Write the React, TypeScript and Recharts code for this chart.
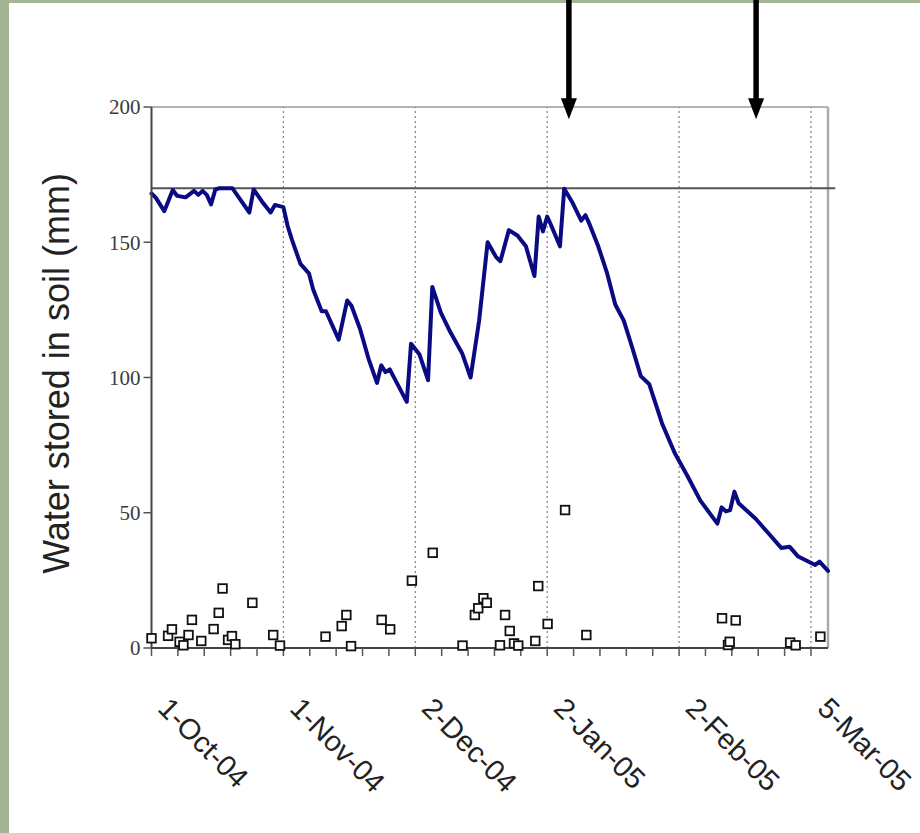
import React from 'react';
import { ComposedChart, Line, Scatter, XAxis, YAxis, ReferenceLine } from 'recharts';

// Days since 1-Oct-04
const lineDays = [0, 1, 3, 5, 6, 8, 10, 11, 12, 13, 14, 15, 16, 19, 21, 23, 24, 26, 28, 29, 31, 32, 33, 35, 37, 38, 40, 41, 44, 46, 47, 49, 51, 53, 54, 55, 56, 58, 60, 61, 63, 65, 66, 68, 70, 73, 75, 77, 79, 81, 82, 84, 86, 88, 90, 91, 92, 93, 94, 96, 97, 99, 101, 102, 103, 105, 107, 109, 111, 113, 115, 117, 120, 123, 126, 129, 133, 134, 135, 136, 137, 138, 142, 145, 148, 150, 152, 156, 157, 159];
const lineValues = [168, 166.5, 161.5, 169.3, 167.2, 166.6, 169, 167.5, 169, 167.5, 164, 169.5, 170, 170, 165.5, 161, 169.5, 165, 161, 163.8, 163, 156, 151, 142, 138.5, 132.5, 124.5, 124.5, 114, 128.5, 126.5, 118, 107, 98, 104.5, 102, 103, 97, 91, 112.5, 108.5, 99, 133.5, 124, 117.5, 109, 100, 121, 150, 144.5, 143, 154.5, 152.5, 148.5, 137.5, 159.5, 154, 159.5, 156, 148.5, 169.8, 164.5, 158, 160, 156.5, 148.5, 139, 127, 121, 111, 100.5, 97.5, 83, 72, 63.5, 54.5, 46, 52, 50.5, 51, 57.8, 53.5, 47.8, 42.4, 37, 37.4, 33.8, 30.7, 31.9, 28.5];

const rainDays = [0, 3.9, 4.8, 6.6, 7.5, 8.7, 9.5, 11.7, 14.6, 15.8, 16.7, 18, 18.9, 19.7, 23.7, 28.6, 30.2, 40.9, 44.7, 45.8, 46.9, 54.1, 56.1, 61.2, 66.1, 73.1, 76, 76.8, 78, 78.8, 81.9, 83.1, 84.2, 85.2, 86.2, 90.2, 90.9, 93.1, 97.2, 102.2, 134.1, 135.5, 135.9, 137.3, 150.1, 151.4, 157.2];
const rainValues = [3.6, 4.5, 6.9, 2.3, 1, 4.8, 10.4, 2.6, 7, 13, 22, 3, 4.4, 1.4, 16.7, 4.8, 0.9, 4.2, 8.1, 12.2, 0.7, 10.4, 6.9, 24.9, 35.2, 0.9, 12.2, 14.7, 18.4, 16.7, 1, 12.2, 6.3, 1.7, 0.9, 2.6, 22.9, 8.9, 51, 4.8, 11, 1.1, 2.3, 10.2, 2, 1, 4.2];

const xTickDays = [0, 6.2, 12.4, 18.6, 24.8, 31, 37.2, 43.4, 49.6, 55.8, 62, 68.2, 74.4, 80.6, 86.8, 93, 99.2, 105.4, 111.6, 117.8, 124, 130.2, 136.4, 142.6, 148.8, 155];
const labelDays = [0, 31, 62, 93, 124, 155];
const dateLabels = ['1-Oct-04', '1-Nov-04', '2-Dec-04', '2-Jan-05', '2-Feb-05', '5-Mar-05'];
const gridDays = [31, 62, 93, 124, 155];
const yTicks = [0, 50, 100, 150, 200];
const fieldCapacity = 170;
const arrowDays = [98.1, 142.1];

const lineData = lineDays.map((d, i) => ({ day: d, stored: lineValues[i] }));
const rainData = rainDays.map((d, i) => ({ day: d, rain: rainValues[i] }));

const XTick = (props: any) => {
  const { x, y, payload } = props;
  const idx = labelDays.findIndex((d) => Math.abs(d - payload.value) < 0.01);
  if (idx < 0) return null;
  const tx = x + 5;
  const ty = y + 52;
  return (
    <text
      x={tx}
      y={ty}
      transform={`rotate(45, ${tx}, ${ty})`}
      textAnchor="start"
      fontFamily="'Liberation Sans', Arial, sans-serif"
      fontSize={29}
      fill="#222"
    >
      {dateLabels[idx]}
    </text>
  );
};

const SquareShape = (props: any) => {
  const { cx, cy } = props;
  if (cx == null || cy == null) return null;
  return <rect x={cx - 4.3} y={cy - 4.3} width={8.6} height={8.6} fill="#fff" stroke="#111" strokeWidth={1.8} />;
};

const ArrowShape = (props: any) => {
  const { x1, y1, x2, y2 } = props;
  const top = Math.min(y1, y2);
  const tip = Math.max(y1, y2);
  return (
    <g>
      <line x1={x1} y1={top} x2={x2} y2={tip - 18} stroke="#000" strokeWidth={5.5} />
      <polygon points={`${x2 - 8},${tip - 21} ${x2 + 8},${tip - 21} ${x2},${tip}`} fill="#000" />
    </g>
  );
};

const HLineShape = (props: any) => {
  const { x1, y1, x2, y2 } = props;
  return <line x1={x1} y1={y1} x2={x2} y2={y2} stroke="#555" strokeWidth={2} />;
};

const YTitle = (props: any) => {
  const { viewBox } = props;
  const cx = viewBox.x + 47;
  const cy = viewBox.y + viewBox.height / 2 - 4;
  return (
    <text
      x={cx}
      y={cy}
      transform={`rotate(-90, ${cx}, ${cy})`}
      textAnchor="middle"
      fontFamily="'Liberation Sans', Arial, sans-serif"
      fontSize={36}
      fill="#222"
    >
      Water stored in soil (mm)
    </text>
  );
};

export default function App() {
  return (
    <div style={{ position: 'absolute', left: 0, top: 0, width: 920, height: 833, background: '#a3b592', overflow: 'hidden' }}>
      <div style={{ position: 'absolute', left: 9, top: 3, right: 0, bottom: 0, background: '#fff' }} />
      <div style={{ position: 'absolute', left: 0, top: 0 }}>
        <ComposedChart width={920} height={833} margin={{ top: 107, right: 92, bottom: 65, left: 21.5 }}>
          <XAxis
            type="number"
            dataKey="day"
            domain={[0, 159]}
            ticks={xTickDays}
            interval={0}
            tick={<XTick />}
            tickSize={8}
            tickLine={{ stroke: '#555', strokeWidth: 1.5 }}
            axisLine={{ stroke: '#444', strokeWidth: 2 }}
            height={120}
            allowDecimals
          />
          <YAxis
            type="number"
            domain={[0, 200]}
            ticks={yTicks}
            width={130}
            tickSize={8}
            tickMargin={3}
            tickLine={{ stroke: '#555', strokeWidth: 1.5 }}
            axisLine={{ stroke: '#444', strokeWidth: 2 }}
            tick={{ fill: '#3a3a3a', fontSize: 21, fontFamily: "'Liberation Serif', 'Times New Roman', serif" }}
            label={<YTitle />}
          />
          <ReferenceLine y={200} stroke="#9a9a9a" strokeWidth={1.5} />
          <ReferenceLine x={159} stroke="#aaa" strokeWidth={2.5} />
          {gridDays.map((d) => (
            <ReferenceLine key={d} x={d} stroke="#888" strokeWidth={1.3} strokeDasharray="2 3" />
          ))}
          <ReferenceLine
            segment={[{ x: 0, y: fieldCapacity }, { x: 160.7, y: fieldCapacity }]}
            ifOverflow="visible"
            shape={<HLineShape />}
          />
          <Scatter data={rainData} dataKey="rain" shape={<SquareShape />} isAnimationActive={false} />
          <Line
            data={lineData}
            dataKey="stored"
            type="linear"
            stroke="#0a0a82"
            strokeWidth={4}
            strokeLinejoin="round"
            strokeLinecap="round"
            dot={false}
            activeDot={false}
            isAnimationActive={false}
          />
          {arrowDays.map((d) => (
            <ReferenceLine
              key={'a' + d}
              segment={[{ x: d, y: 240 }, { x: d, y: 195.5 }]}
              ifOverflow="visible"
              shape={<ArrowShape />}
            />
          ))}
        </ComposedChart>
      </div>
    </div>
  );
}
